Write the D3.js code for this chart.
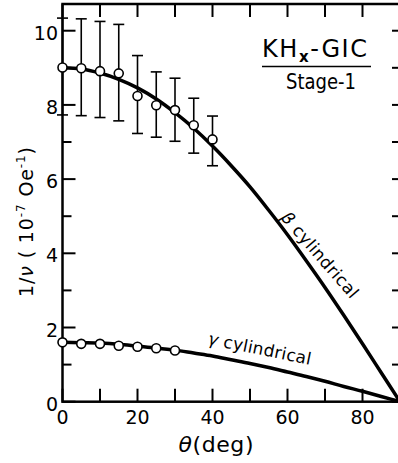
<!doctype html><html><head><style>body{margin:0;background:#fff}</style></head><body><script src='https://d3js.org/d3.v7.min.js'></script>
<script>
  // measured points (open circles) and their error bars
  const angles = [0, 5, 10, 15, 20, 25, 30, 35, 40];
  const betaVals = [9.01, 8.99, 8.91, 8.85, 8.24, 7.99, 7.86, 7.45, 7.07];
  const betaHi = [10.34, 10.32, 10.25, 10.17, 9.33, 8.89, 8.72, 8.18, 7.70];
  const betaLo = [7.73, 7.71, 7.66, 7.57, 7.23, 7.13, 7.02, 6.70, 6.36];
  const gammaAngles = [0, 5, 10, 15, 20, 25, 30];
  const gammaVals = [1.60, 1.56, 1.56, 1.51, 1.48, 1.44, 1.38];

  // model curves
  const curveAngles = [0, 5, 10, 15, 20, 25, 30, 35, 40, 45, 50, 55, 60, 65, 70, 75, 80, 85, 90];
  const betaCurve = [9.0, 8.97, 8.86, 8.69, 8.46, 8.16, 7.79, 7.37, 6.89, 6.36, 5.79, 5.16, 4.5, 3.8, 3.08, 2.33, 1.56, 0.78, 0];
  const gammaCurve = [1.6, 1.59, 1.58, 1.55, 1.5, 1.45, 1.39, 1.31, 1.23, 1.13, 1.03, 0.92, 0.8, 0.68, 0.55, 0.41, 0.28, 0.14, 0];

  const xTicks = [0, 10, 20, 30, 40, 50, 60, 70, 80, 90];
  const xLabels = [0, 20, 40, 60, 80];
  const yTicks = [0, 1, 2, 3, 4, 5, 6, 7, 8, 9, 10];
  const yLabels = [0, 2, 4, 6, 8, 10];

  const width = 398, height = 463;
  const x = d3.scaleLinear().domain([0, 90]).range([62.5, 400]);
  const y = d3.scaleLinear().domain([0, 10.72]).range([401.7, 4]);

  const svg = d3.select("body").append("svg")
    .attr("width", width).attr("height", height)
    .style("font-family", "DejaVu Sans, sans-serif");

  // frame
  svg.append("rect")
    .attr("x", x(0)).attr("y", y(10.72))
    .attr("width", x(90) - x(0)).attr("height", y(0) - y(10.72))
    .attr("fill", "none").attr("stroke", "#000").attr("stroke-width", 2.5);

  // ticks, all pointing inward
  const ticks = svg.append("g").attr("stroke", "#000").attr("stroke-width", 2);
  xTicks.forEach(function(t) {
    ticks.append("line").attr("x1", x(t)).attr("x2", x(t)).attr("y1", y(0)).attr("y2", y(0) - 13);
    ticks.append("line").attr("x1", x(t)).attr("x2", x(t)).attr("y1", y(10.72)).attr("y2", y(10.72) + 13);
  });
  yTicks.forEach(function(t) {
    var len = (t % 2 == 0) ? 13 : 9;
    ticks.append("line").attr("x1", x(0)).attr("x2", x(0) + len).attr("y1", y(t)).attr("y2", y(t));
    ticks.append("line").attr("x1", x(90)).attr("x2", x(90) - 8).attr("y1", y(t)).attr("y2", y(t));
  });

  // tick labels
  svg.selectAll(".xl").data(xLabels).enter().append("text")
    .attr("x", function(d) { return x(d); })
    .attr("y", 424)
    .attr("text-anchor", "middle")
    .attr("font-size", "19px")
    .text(function(d) { return d; });

  svg.selectAll(".yl").data(yLabels).enter().append("text")
    .attr("x", 58)
    .attr("y", function(d) { return y(d) + 9; })
    .attr("text-anchor", "end")
    .attr("font-size", "19px")
    .text(function(d) { return d; });

  // axis titles
  var xt = svg.append("text").attr("x", 216).attr("y", 452).attr("text-anchor", "middle")
    .attr("font-size", "22px").attr("textLength", 75);
  xt.append("tspan").attr("font-style", "italic").text("θ");
  xt.append("tspan").text("(deg)");

  var yt = svg.append("text")
    .attr("transform", "translate(33,222) rotate(-90)")
    .attr("text-anchor", "middle")
    .attr("font-size", "19px")
    .attr("textLength", 150);
  yt.append("tspan").text("1/");
  yt.append("tspan").attr("font-style", "italic").text("ν");
  yt.append("tspan").text(" ( 10");
  yt.append("tspan").attr("font-size", "12px").attr("dy", -8).text("-7");
  yt.append("tspan").attr("dy", 8).text(" Oe");
  yt.append("tspan").attr("font-size", "12px").attr("dy", -8).text("-1");
  yt.append("tspan").attr("dy", 8).text(")");

  // curves
  var line = d3.line()
    .x(function(d, i) { return x(curveAngles[i]); })
    .y(function(d) { return y(d); })
    .curve(d3.curveMonotoneX);

  svg.append("path").datum(betaCurve).attr("d", line)
    .attr("fill", "none").attr("stroke", "#000").attr("stroke-width", 3.5);
  svg.append("path").datum(gammaCurve).attr("d", line)
    .attr("fill", "none").attr("stroke", "#000").attr("stroke-width", 3.5);

  // error bars
  var eb = svg.append("g").attr("stroke", "#000").attr("stroke-width", 1.6);
  angles.forEach(function(a, i) {
    eb.append("line").attr("x1", x(a)).attr("x2", x(a)).attr("y1", y(betaHi[i])).attr("y2", y(betaLo[i]));
    eb.append("line").attr("x1", x(a) - 5.5).attr("x2", x(a) + 5.5).attr("y1", y(betaHi[i])).attr("y2", y(betaHi[i]));
    eb.append("line").attr("x1", x(a) - 5.5).attr("x2", x(a) + 5.5).attr("y1", y(betaLo[i])).attr("y2", y(betaLo[i]));
  });

  // open circles
  svg.selectAll(".bp").data(betaVals).enter().append("circle")
    .attr("cx", function(d, i) { return x(angles[i]); })
    .attr("cy", function(d) { return y(d); })
    .attr("r", 4.5).attr("fill", "#fff").attr("stroke", "#000").attr("stroke-width", 1.6);
  svg.selectAll(".gp").data(gammaVals).enter().append("circle")
    .attr("cx", function(d, i) { return x(gammaAngles[i]); })
    .attr("cy", function(d) { return y(d); })
    .attr("r", 4.5).attr("fill", "#fff").attr("stroke", "#000").attr("stroke-width", 1.6);

  // curve labels
  var bl = svg.append("text")
    .attr("transform", "translate(280,218) rotate(49)")
    .attr("font-size", "17px").attr("textLength", 108);
  bl.append("tspan").attr("font-style", "italic").text("β");
  bl.append("tspan").text(" cylindrical");

  var gl = svg.append("text")
    .attr("transform", "translate(207,344) rotate(11.5)")
    .attr("font-size", "17px").attr("textLength", 105);
  gl.append("tspan").attr("font-style", "italic").text("γ");
  gl.append("tspan").text(" cylindrical");

  // sample label
  var kh = svg.append("text").attr("x", 262).attr("y", 57).attr("font-size", "24px").attr("textLength", 105);
  kh.append("tspan").text("KH");
  kh.append("tspan").attr("font-size", "15px").attr("font-weight", "bold").attr("dy", 5).text("x");
  kh.append("tspan").attr("dy", -5).text("-GIC");
  svg.append("line").attr("x1", 262).attr("x2", 371).attr("y1", 66.5).attr("y2", 66.5)
    .attr("stroke", "#000").attr("stroke-width", 1.5);
  svg.append("text").attr("x", 286).attr("y", 89).attr("font-size", "21px")
    .attr("textLength", 70).attr("lengthAdjust", "spacingAndGlyphs").text("Stage-1");
</script></body></html>
